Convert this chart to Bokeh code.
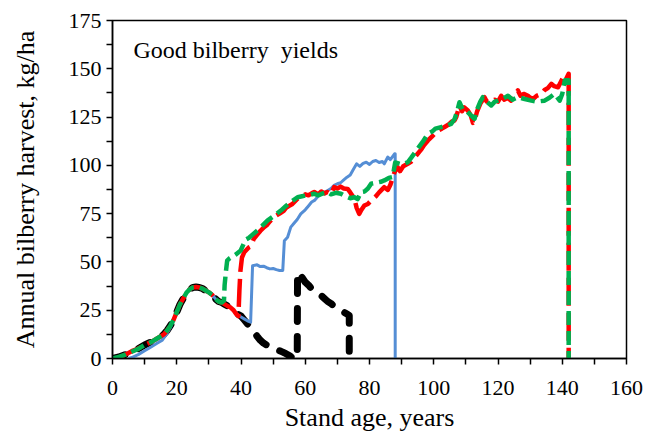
from bokeh.plotting import figure
from bokeh.models import Range1d, FixedTicker, Label
from bokeh.embed import file_html
from bokeh.resources import INLINE

# ---- data (stand age in years, annual bilberry harvest kg/ha) ----
early_x = [0, 2, 4, 6, 8, 10, 12, 14, 16, 17, 18, 19, 20, 21, 22, 23, 24, 25, 26, 27, 28, 29, 30, 31, 32, 33, 34]
early_y = [0, 0.8, 2, 3.5, 5, 7, 8.5, 10.5, 12.5, 14.5, 17, 20, 24, 28, 31, 34, 35.8, 36.8, 37, 36.8, 36.2, 35.2, 34.2, 33, 31, 29.5, 29]

black_x = early_x + [35, 36, 37, 38, 39, 40, 41, 42, 43, 44, 45, 46, 47, 48, 49, 50, 51, 52, 53, 54, 55, 55.5, 56, 57.5,
                     57.6, 58.1, 59, 60, 61, 62, 63, 64, 65, 66, 67, 68, 69, 70, 71, 72, 73, 73.7, 73.7]
black_y = early_y + [28, 27, 26, 24.5, 23, 22, 20, 18, 16, 14, 11.5, 9.5, 8, 7, 6, 5, 4.5, 4, 3.3, 2.5, 1.5, 1, 0.3, 0.3,
                     44, 44.7, 42, 39.5, 38, 36, 35, 34, 32.5, 31, 29.5, 28.5, 27, 26, 25, 24, 23, 22.3, 0]

blue_x = [5, 6, 8, 10, 12, 14, 15.5, 17, 18, 19, 20, 21, 22, 23, 24, 25, 26, 27, 28, 29, 30, 31, 32, 33, 34,
          35, 36, 37, 38, 39, 40, 41, 42, 43, 43.6, 45, 46, 47, 48, 49, 50, 51, 52, 53, 53.5, 54.5, 55.5, 56.5,
          57.5, 58.6, 60, 61, 62, 63, 64, 65, 66, 67, 68, 69, 70, 71, 72, 73, 74, 75, 76, 77, 78, 79, 80, 81,
          82, 83, 84, 84.6, 85.7, 86.5, 87.8, 88, 88]
blue_y = [0, 0.5, 2, 4, 6, 8, 9.5, 13, 16, 20, 24, 28, 31, 34, 35.8, 36.8, 37, 36.8, 36.2, 35.2, 34.2, 33, 31, 29.5, 29,
          28, 27, 26, 24, 22.5, 21.5, 20.5, 19.5, 18.8, 48, 48.5, 47.6, 47.8, 47, 46.4, 46.6, 46, 45.6, 45.6, 61, 62.8,
          68, 70, 72, 74.9, 77, 79, 81, 82, 84, 85.3, 86, 87, 88, 89.6, 90.5, 91, 92.5, 93.9, 95, 98, 100.8, 99.5,
          101, 101.6, 100.5, 102, 102.5, 101.5, 102, 100.8, 104.3, 103, 106, 106, 0]

red_x = [1, 2, 4, 6, 8, 10, 12, 14, 16, 17, 18, 19, 20, 21, 22, 23, 24, 25, 26, 27, 28, 29, 30, 31, 32, 33, 34,
         35, 36, 36.6, 37.7, 38.5, 39.2, 39.5, 39.8, 40.3, 41, 42.4, 43, 44, 45, 46, 47.2, 48, 49, 50.3, 51, 52,
         53.4, 54, 55, 56, 57.6, 58, 59, 60, 61, 62, 62.8, 64, 65, 66, 66.9, 68, 69, 70, 71, 72, 73.2, 74, 75.3,
         76, 76.8, 77.5, 78.4, 79.5, 80.5, 82, 83, 84.6, 85.7, 86.5, 87.8, 88.8, 89.5, 90.5, 91.9, 93, 94, 95, 96,
         97, 98.2, 99.5, 101.3, 102.5, 103.5, 104.5, 105.5, 106.5, 107, 108, 108.8, 109.5, 110.6, 111.5, 112.2,
         112.7, 113.5, 114.5, 115.8, 116.5, 117.9, 119, 120, 121, 122, 123, 124.1, 125, 126.2, 127, 128, 129.3,
         130, 131, 132, 133.5, 134.5, 135.5, 136.6, 137.5, 138.7, 139.5, 140.3, 141, 142, 142]
red_y = [0, 0.5, 2, 3.8, 5.2, 7, 8.5, 10.5, 12.5, 14.5, 17, 20, 24, 28, 31, 34, 35.8, 36.8, 37, 36.8, 36.2, 35.2,
         34.2, 33, 31, 29.5, 29, 28, 27, 26.6, 25, 23, 22, 35, 45, 52.3, 55, 57.5, 58, 62, 64, 66, 68, 69, 71, 73.2,
         74, 75, 76.6, 78, 79, 80, 82.7, 83, 84, 85, 84.5, 85.5, 86.2, 85, 86.5, 85.5, 86.2, 85, 88.7, 88, 89, 88,
         87.8, 86, 82.7, 78, 74.9, 77, 79.2, 80, 81.8, 84, 86, 88.7, 87.3, 90, 96.5, 99, 97, 99.5, 100.8, 102, 104,
         106, 108, 110.5, 112.9, 115, 118, 119, 120, 121, 122.5, 123.3, 125, 131, 128, 130, 128.4, 126, 122, 123,
         128, 132, 135.3, 133, 132.7, 134, 133, 136, 134, 135, 133.5, 136, 138.8, 136, 137, 136, 135, 134.5, 136,
         137, 139, 140, 142.2, 141, 140.4, 143, 145.7, 144, 147.4, 0]

green_x = early_x + [34.7, 34.9, 35.3, 35.7, 36.5, 37.5, 38.5, 39.9, 41.4, 42.5, 43.5, 45.1, 46.5, 48.3, 50, 52.4, 54,
                     55.5, 57.6, 59, 60.5, 62.8, 64, 65.5, 66.9, 68, 69.5, 71.1, 72.5, 74, 75.3, 76.3, 77.4, 78.5,
                     79.5, 80.5, 82, 83.5, 84.6, 86, 87.2, 88, 89, 90, 91.9, 93, 95, 96.5, 98.2, 99.5, 100.5, 102.3,
                     104, 105.4, 106.5, 107.3, 108, 109, 110.1, 111.5, 112.7, 113.5, 114.5, 115.3, 116.5, 117.9,
                     119, 120, 121.5, 123.1, 124.5, 126.2, 128, 130.4, 132, 134.5, 136, 137.6, 138.5, 139.2, 140,
                     140.8, 142, 142]
green_y = early_y + [30, 38, 45, 50.7, 52, 53, 54, 55.9, 61.5, 62.5, 64, 66.3, 68.5, 71.5, 73.5, 76.6, 79, 81, 83.5,
                     84, 84.5, 85.3, 84.5, 85.5, 86.2, 85, 85.8, 85.3, 84, 83, 83.5, 82.5, 86.2, 86.5, 88, 90.5, 91,
                     91.5, 92.2, 93.5, 94, 101.5, 101, 100.5, 101.6, 104, 108.6, 112, 116.4, 117.5, 119, 119.8,
                     120.5, 121.5, 124, 128, 132.7, 129, 128.4, 126, 124.1, 129, 133, 135.3, 133, 131, 133, 133.5,
                     134.5, 136, 134, 135.3, 134.5, 133.5, 133, 133.5, 135, 137, 135, 133.5, 137, 144, 144, 0]

x_ticks = [0, 20, 40, 60, 80, 100, 120, 140, 160]
x_minor = [10, 30, 50, 70, 90, 110, 130, 150]
y_ticks = [0, 25, 50, 75, 100, 125, 150, 175]
y_minor = [12.5, 37.5, 62.5, 87.5, 112.5, 137.5, 162.5]

FONT = "Liberation Serif"

p = figure(frame_width=514, frame_height=338,
           min_border_left=112, min_border_right=32, min_border_top=20, min_border_bottom=80,
           x_range=Range1d(0, 160), y_range=Range1d(0, 175),
           output_backend="svg", toolbar_location=None, background_fill_color="white")

p.xgrid.visible = False
p.ygrid.visible = False
p.outline_line_color = "black"
p.outline_line_width = 1.5
p.outline_line_alpha = 1

p.line(black_x, black_y, line_color="black", line_width=7, line_dash="13 15", line_cap="round", line_join="round")
p.line(blue_x, blue_y, line_color="#558ED5", line_width=3, line_join="round")
p.line(red_x, red_y, line_color="#FF0000", line_width=4.5, line_dash="28 7", line_join="round")
p.line(green_x, green_y, line_color="#00B050", line_width=4.5, line_dash="14 6", line_join="round")

p.xaxis.ticker = FixedTicker(ticks=x_ticks, minor_ticks=x_minor)
p.yaxis.ticker = FixedTicker(ticks=y_ticks, minor_ticks=y_minor)

p.axis.axis_line_color = "black"
p.axis.axis_line_width = 1.5
p.axis.major_tick_line_color = "black"
p.axis.minor_tick_line_color = "black"
p.axis.major_tick_line_width = 1.5
p.axis.minor_tick_line_width = 1.5
p.axis.major_tick_in = 0
p.axis.major_tick_out = 6
p.axis.minor_tick_in = 0
p.axis.minor_tick_out = 6
p.axis.major_label_text_font = FONT
p.axis.major_label_text_font_size = "22px"
p.axis.major_label_text_color = "black"
p.axis.axis_label_text_font = FONT
p.axis.axis_label_text_font_size = "26px"
p.axis.axis_label_text_font_style = "normal"
p.axis.axis_label_text_color = "black"

p.xaxis.axis_label = "Stand age, years"
p.yaxis.axis_label = "Annual bilberry harvest, kg/ha"
p.xaxis.major_label_standoff = 16
p.xaxis.axis_label_standoff = 5
p.yaxis.major_label_standoff = 5
p.yaxis.axis_label_standoff = 26

p.add_layout(Label(x=6.5, y=159.5, text="Good bilberry\u00a0 yields", text_font=FONT,
                   text_font_size="24px", text_color="black", text_baseline="alphabetic"))

open("out.html", "w").write(file_html(p, INLINE))
